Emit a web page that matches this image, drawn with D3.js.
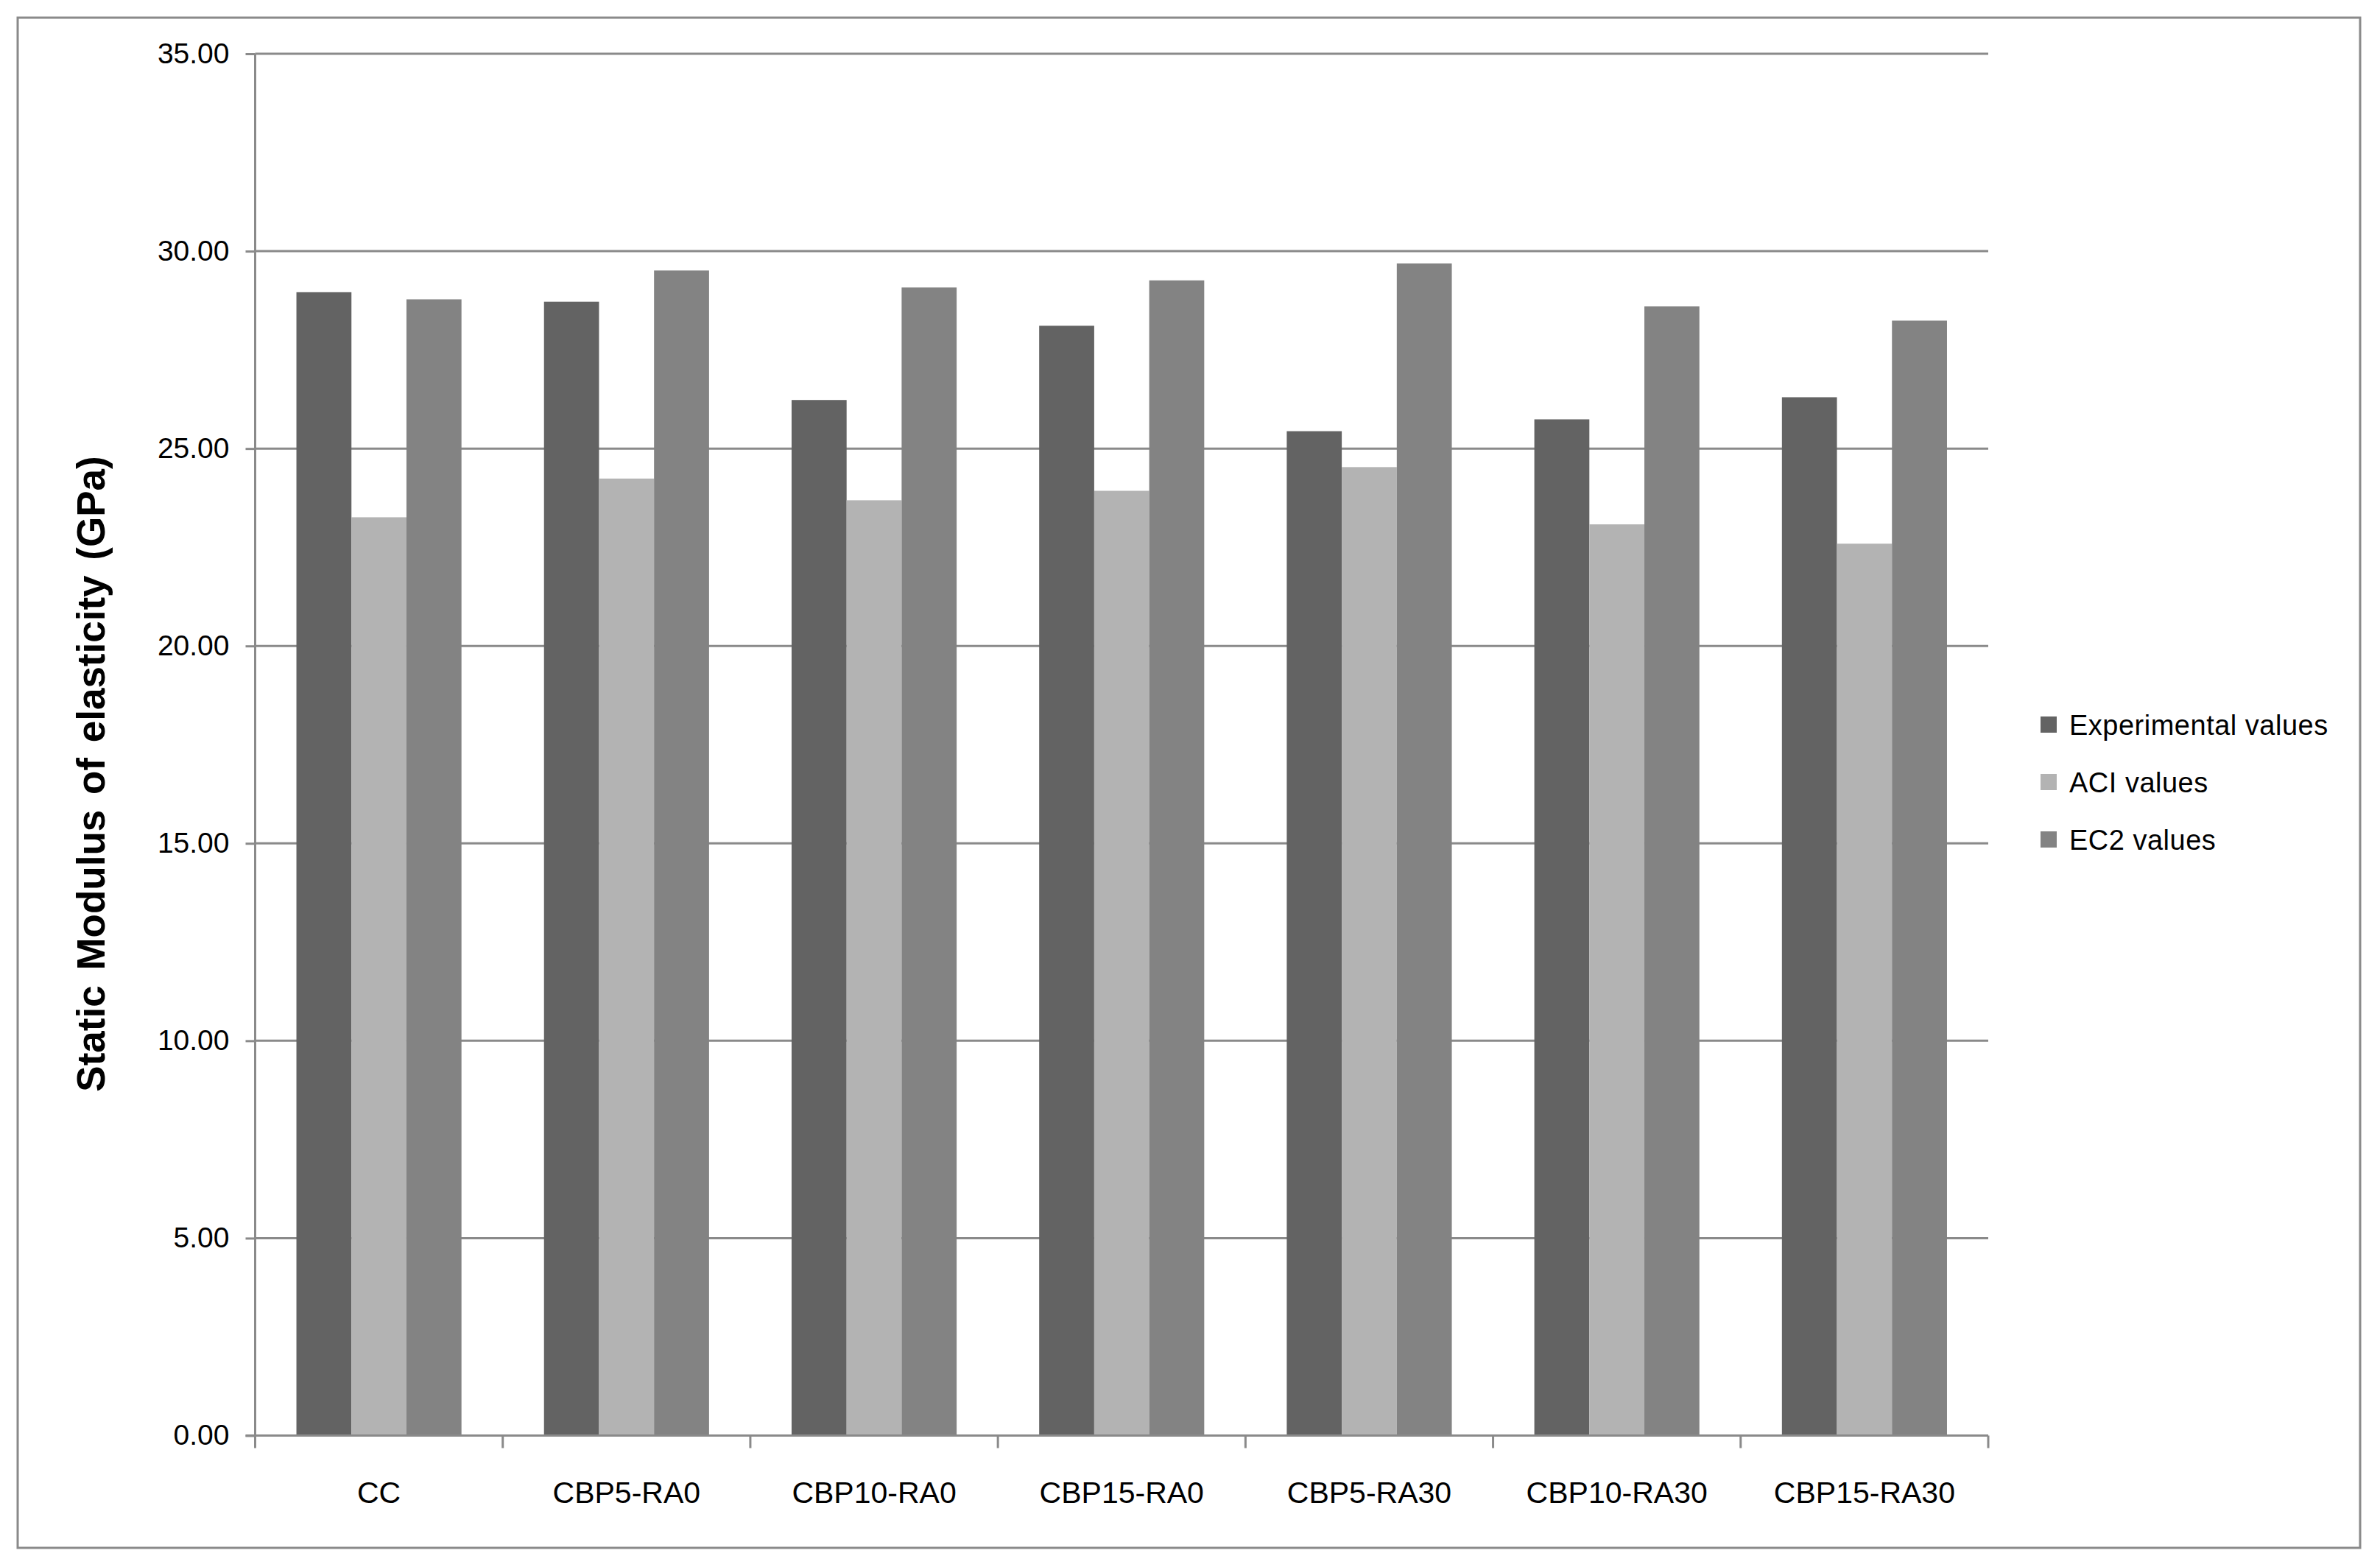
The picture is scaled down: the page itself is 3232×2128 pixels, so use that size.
<!DOCTYPE html>
<html>
<head>
<meta charset="utf-8">
<script src="https://cdn.jsdelivr.net/npm/d3@7"></script>
<style>
  html, body { margin: 0; padding: 0; background: #fff; }
  svg { display: block; }
  text { font-family: "Liberation Sans Narrow", "Arial Narrow", "Liberation Sans", sans-serif; fill: #000; }
</style>
</head>
<body>
<script>
const categories = ["CC", "CBP5-RA0", "CBP10-RA0", "CBP15-RA0", "CBP5-RA30", "CBP10-RA30", "CBP15-RA30"];
const seriesNames = ["Experimental values", "ACI values", "EC2 values"];
const experimental = [28.96, 28.72, 26.23, 28.11, 25.44, 25.74, 26.30];
const aci = [23.26, 24.24, 23.69, 23.93, 24.53, 23.08, 22.59];
const ec2 = [28.78, 29.51, 29.08, 29.26, 29.69, 28.60, 28.24];
const yTicks = [0, 5, 10, 15, 20, 25, 30, 35];
const yTitle = "Static Modulus of elasticity (GPa)";
const colors = ["#636363", "#b3b3b3", "#838383"];

(function () {
const W = 3232, H = 2128;
const pLeft = 346.5, pRight = 2700, pTop = 73, pBottom = 1949.5;
const gridColor = "#8a8a8a";
const fontFam = '"Liberation Sans Narrow", "Arial Narrow", "Liberation Sans", sans-serif';

const svg = d3.select("body").append("svg").attr("width", W).attr("height", H);

// outer chart border
svg.append("rect").attr("x", 24).attr("y", 24).attr("width", 3181).attr("height", 2078)
  .attr("fill", "#fff").attr("stroke", gridColor).attr("stroke-width", 3);

const x0 = d3.scaleBand().domain(categories).range([pLeft, pRight]).paddingInner(1/3).paddingOuter(1/6);
const x1 = d3.scaleBand().domain(seriesNames).range([0, x0.bandwidth()]);
const y = d3.scaleLinear().domain([0, 35]).range([pBottom, pTop]);

// gridlines
svg.append("g").selectAll("line").data(yTicks.filter(d => d > 0)).join("line")
  .attr("x1", pLeft).attr("x2", pRight)
  .attr("y1", d => y(d)).attr("y2", d => y(d))
  .attr("stroke", gridColor).attr("stroke-width", 3);

// bars
const data = categories.map((c, i) => ({ c, vals: [experimental[i], aci[i], ec2[i]] }));
const groups = svg.append("g").selectAll("g").data(data).join("g")
  .attr("transform", d => `translate(${x0(d.c)},0)`);
groups.selectAll("rect").data(d => d.vals.map((v, j) => ({ v, s: seriesNames[j], j }))).join("rect")
  .attr("x", d => x1(d.s)).attr("width", x1.bandwidth())
  .attr("y", d => y(d.v)).attr("height", d => y(0) - y(d.v))
  .attr("fill", d => colors[d.j]);

// y axis
const yAxis = d3.axisLeft(y).tickValues(yTicks).tickSize(13).tickPadding(22).tickFormat(d3.format(".2f"));
const gy = svg.append("g").attr("transform", `translate(${pLeft},0)`).call(yAxis);
gy.select(".domain").attr("stroke", gridColor).attr("stroke-width", 3).attr("d", `M0,${pTop}V${pBottom}`);
gy.selectAll(".tick line").attr("stroke", gridColor).attr("stroke-width", 3);
gy.selectAll(".tick text").attr("font-size", 39).attr("fill", "#000").style("font-family", fontFam);

// x axis
const xAxis = d3.axisBottom(x0).tickSize(0).tickPadding(62);
const gx = svg.append("g").attr("transform", `translate(0,${pBottom})`).call(xAxis);
gx.select(".domain").attr("stroke", gridColor).attr("stroke-width", 3).attr("d", `M${pLeft - 13},0H${pRight}`);
gx.selectAll(".tick text").attr("font-size", 41).attr("fill", "#000").style("font-family", fontFam);
// category boundary ticks
const bounds = categories.map(c => x0(c) - x0.step() * x0.paddingInner() / 2).concat([pRight]);
bounds[0] = pLeft;
gx.append("g").selectAll("line").data(bounds).join("line")
  .attr("x1", d => d).attr("x2", d => d).attr("y1", 0).attr("y2", 17)
  .attr("stroke", gridColor).attr("stroke-width", 3);

// y title
svg.append("text").attr("transform", `translate(142,1051) rotate(-90)`)
  .attr("text-anchor", "middle").attr("font-size", 53).attr("font-weight", "bold")
  .attr("word-spacing", 6).style("font-family", fontFam)
  .text(yTitle);

// legend
const legend = svg.append("g").selectAll("g").data(seriesNames).join("g")
  .attr("transform", (d, i) => `translate(2771,${984 + i * 78})`);
legend.append("rect").attr("x", 0).attr("y", -11).attr("width", 22).attr("height", 22)
  .attr("fill", (d, i) => colors[i]);
legend.append("text").attr("x", 39).attr("y", 14).attr("font-size", 38).attr("letter-spacing", 0.5)
  .style("font-family", fontFam).text(d => d);
})();
</script>
</body>
</html>
